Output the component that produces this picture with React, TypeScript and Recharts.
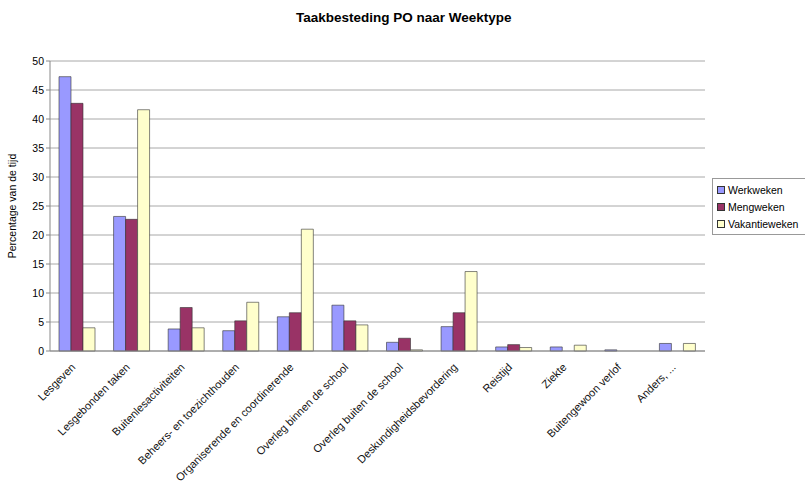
import React from 'react';
import { BarChart, Bar, XAxis, YAxis, CartesianGrid } from 'recharts';

const categories = [
  'Lesgeven',
  'Lesgebonden taken',
  'Buitenlesactiviteiten',
  'Beheers- en toezichthouden',
  'Organiserende en coordinerende',
  'Overleg binnen de school',
  'Overleg buiten de school',
  'Deskundigheidsbevordering',
  'Reistijd',
  'Ziekte',
  'Buitengewoon verlof',
  'Anders, ...',
];

const werkweken = [47.3, 23.2, 3.8, 3.5, 5.9, 7.9, 1.5, 4.2, 0.7, 0.7, 0.2, 1.3];
const mengweken = [42.7, 22.7, 7.5, 5.2, 6.6, 5.2, 2.2, 6.6, 1.1, 0, 0, 0];
const vakantieweken = [4.0, 41.6, 4.0, 8.4, 21.0, 4.5, 0.2, 13.7, 0.6, 1.0, 0, 1.3];

const yTicks = [0, 5, 10, 15, 20, 25, 30, 35, 40, 45, 50];

const series = [
  { key: 'Werkweken', color: '#9999FF' },
  { key: 'Mengweken', color: '#993366' },
  { key: 'Vakantieweken', color: '#FFFFCC' },
];

const data = categories.map((name, i) => ({
  name,
  Werkweken: werkweken[i],
  Mengweken: mengweken[i],
  Vakantieweken: vakantieweken[i],
}));

const FONT = '"Liberation Sans", Arial, sans-serif';

// category label rotated 45deg, text ends just left of the category centre
const RotatedTick = ({ x, y, payload }: any) => (
  <g transform={`translate(${x - 4},${y + 6})`}>
    <text
      textAnchor="end"
      transform="rotate(-45)"
      fontSize={11}
      fontFamily={FONT}
      style={{ fill: '#111' }}
      dy={4}
    >
      {payload.value}
    </text>
  </g>
);

export default function App() {
  return (
    <div style={{ position: 'absolute', left: 0, top: 0, width: 805, height: 483, background: '#fff', overflow: 'hidden' }}>
      <div
        style={{
          position: 'absolute',
          left: 296,
          top: 10,
          fontFamily: FONT,
          fontWeight: 'bold',
          fontSize: 13.5,
          whiteSpace: 'nowrap',
        }}
      >
        Taakbesteding PO naar Weektype
      </div>
      <div
        style={{
          position: 'absolute',
          left: 712,
          top: 178,
          width: 100,
          border: '1px solid #999',
          padding: '2px 0 2px 4px',
          fontFamily: FONT,
          fontSize: 10.5,
          background: '#fff',
        }}
      >
        {series.map((s) => (
          <div key={s.key} style={{ display: 'flex', alignItems: 'center', height: 17, whiteSpace: 'nowrap' }}>
            <span
              style={{
                width: 6,
                height: 6,
                background: s.color,
                border: '1px solid #333',
                marginRight: 3,
                display: 'inline-block',
              }}
            />
            {s.key}
          </div>
        ))}
      </div>
      <BarChart
        width={805}
        height={483}
        data={data}
        margin={{ top: 61, right: 100, left: 0, bottom: 0 }}
        barCategoryGap={9}
        barGap={0}
      >
        <CartesianGrid vertical={false} stroke="#a8a8a8" />
        <XAxis
          dataKey="name"
          interval={0}
          height={132}
          tick={<RotatedTick />}
          tickLine={false}
          axisLine={{ stroke: '#888' }}
        />
        <YAxis
          domain={[0, 50]}
          ticks={yTicks}
          width={50}
          tick={{ fontSize: 10.5, fontFamily: FONT, fill: '#000' }}
          tickLine={{ stroke: '#888' }}
          tickSize={4}
          axisLine={{ stroke: '#888' }}
          label={{
            value: 'Percentage van de tijd',
            angle: -90,
            position: 'insideLeft',
            offset: 12,
            style: { fontSize: 10.5, fontFamily: FONT, fill: '#000', textAnchor: 'middle' },
          }}
        />
        <YAxis
          yAxisId="r"
          orientation="right"
          width={0}
          tick={false}
          tickLine={false}
          axisLine={{ stroke: '#999' }}
        />
        {series.map((s) => (
          <Bar
            key={s.key}
            dataKey={s.key}
            fill={s.color}
            stroke="#333"
            strokeWidth={0.6}
            isAnimationActive={false}
          />
        ))}
      </BarChart>
    </div>
  );
}
